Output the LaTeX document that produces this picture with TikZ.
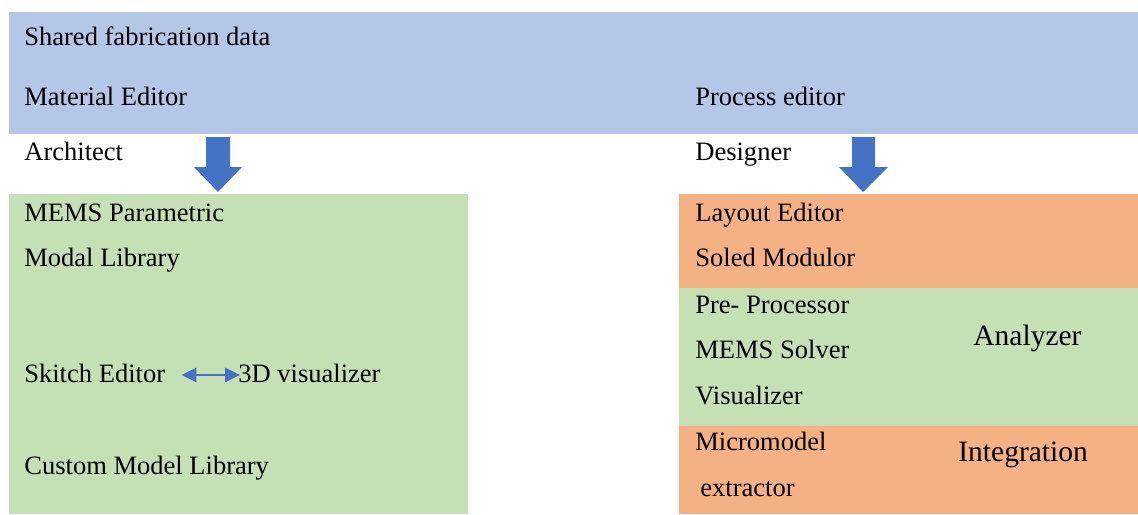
\documentclass[tikz,border=0pt]{standalone}
\usepackage{fontspec}
\setmainfont{Liberation Serif}
\usetikzlibrary{arrows.meta}
\definecolor{bandblue}{HTML}{B4C7E7}
\definecolor{boxgreen}{HTML}{C5E0B4}
\definecolor{boxorange}{HTML}{F4B183}
\definecolor{arrowblue}{HTML}{4472C4}
\tikzset{
  lbl/.style={anchor=base west, inner sep=0pt, font=\fontsize{15.1}{18}\selectfont},
  biglbl/.style={anchor=base west, inner sep=0pt, font=\fontsize{16.8}{20}\selectfont},
  blockarrow/.style={fill=arrowblue, draw=none},
}
\begin{document}
\begin{tikzpicture}[x=0.02cm, y=-0.02cm]
\useasboundingbox (0,0) rectangle (1138,514);
% background boxes
\fill[bandblue] (9,12) rectangle (1138,134);
\fill[boxgreen] (9,194) rectangle (468,514);
\fill[boxorange] (679,194) rectangle (1138,288);
\fill[boxgreen] (679,288) rectangle (1138,426);
\fill[boxorange] (679,426) rectangle (1138,514);
% block arrows
\fill[blockarrow] (206,137) -- (230,137) -- (230,167) -- (242,167) -- (218,192) -- (194,167) -- (206,167) -- cycle;
\fill[blockarrow] (852,137) -- (875,137) -- (875,167) -- (888,167) -- (863,192) -- (839,167) -- (852,167) -- cycle;
\node (shared)[lbl] at (24,45) {Shared fabrication data};
\node (material)[lbl] at (24,105) {Material Editor};
\node (process)[lbl] at (695,105) {Process editor};
\node (architect)[lbl] at (24,160) {Architect};
\node (designer)[lbl] at (695,160) {Designer};
\node (parametric)[lbl] at (24,221) {MEMS Parametric};
\node (modal)[lbl] at (24,266) {Modal Library};
\node (skitch)[lbl] at (24,382) {Skitch Editor};
\node (vis3d)[lbl] at (238,382) {3D visualizer};
\node (custom)[lbl] at (24,474) {Custom Model Library};
\node (layout)[lbl] at (695,221) {Layout Editor};
\node (soled)[lbl] at (695,266) {Soled Modulor};
\node (pre)[lbl] at (695,313) {Pre- Processor};
\node (solver)[lbl] at (695,358) {MEMS Solver};
\node (visual)[lbl] at (695,404) {Visualizer};
\node (analyzer)[biglbl] at (973,345) {Analyzer};
\node (micro)[lbl] at (695,450) {Micromodel};
\node (extract)[lbl] at (700,496) {extractor};
\node (integ)[biglbl] at (958,461) {Integration};
\draw[arrowblue, line width=1.5pt, {Triangle[length=8.5pt,width=8pt]}-{Triangle[length=8.5pt,width=8pt]}] ([xshift=0.32cm]skitch.east |- 0,375) -- ([xshift=0.04cm]vis3d.west |- 0,375);
\end{tikzpicture}
\end{document}
